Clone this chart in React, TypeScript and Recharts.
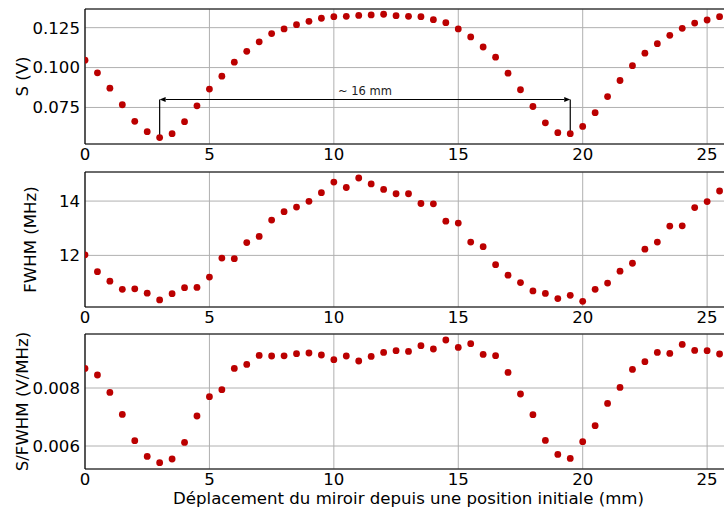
import React from 'react';
import { ScatterChart, Scatter, XAxis, YAxis, CartesianGrid, ReferenceLine } from 'recharts';

// mirror displacement (mm)
const positions = [
  0, 0.5, 1, 1.5, 2, 2.5, 3, 3.5, 4, 4.5, 5, 5.5, 6, 6.5, 7, 7.5, 8, 8.5, 9, 9.5,
  10, 10.5, 11, 11.5, 12, 12.5, 13, 13.5, 14, 14.5, 15, 15.5, 16, 16.5, 17, 17.5,
  18, 18.5, 19, 19.5, 20, 20.5, 21, 21.5, 22, 22.5, 23, 23.5, 24, 24.5, 25, 25.5,
];

// S (V)
const signal = [
  0.1046, 0.0967, 0.0871, 0.0767, 0.0663, 0.0598, 0.0561, 0.0586, 0.0661, 0.076,
  0.0865, 0.0946, 0.1034, 0.1102, 0.1161, 0.1213, 0.1242, 0.1269, 0.129, 0.1309,
  0.1319, 0.1321, 0.1327, 0.133, 0.1334, 0.1325, 0.1321, 0.1319, 0.13, 0.1281,
  0.1242, 0.1192, 0.1129, 0.1065, 0.0965, 0.0861, 0.0756, 0.0654, 0.0592, 0.0586,
  0.0631, 0.0717, 0.0818, 0.0919, 0.1012, 0.109, 0.115, 0.1202, 0.1246, 0.1279,
  0.1298, 0.1319,
];

// FWHM (MHz)
const fwhm = [
  12.02, 11.4, 11.05, 10.75, 10.77, 10.61, 10.36, 10.59, 10.81, 10.82,
  11.2, 11.9, 11.88, 12.47, 12.7, 13.3, 13.61, 13.78, 13.99, 14.31,
  14.7, 14.5, 14.85, 14.63, 14.43, 14.27, 14.27, 13.91, 13.9, 13.26,
  13.19, 12.49, 12.32, 11.66, 11.27, 11.0, 10.69, 10.6, 10.41, 10.53,
  10.31, 10.75, 10.98, 11.42, 11.71, 12.23, 12.49, 13.08, 13.09, 13.76,
  13.98, 14.37,
];

// S/FWHM (V/MHz)
const ratio = [
  0.008676, 0.008448, 0.007848, 0.00709, 0.006183, 0.005641, 0.005424, 0.005552, 0.006124, 0.007034,
  0.0077, 0.007941, 0.008676, 0.008814, 0.009124, 0.009103, 0.00911, 0.009183, 0.009207, 0.009138,
  0.008976, 0.009103, 0.008931, 0.00909, 0.009228, 0.009286, 0.009262, 0.009459, 0.009345, 0.009655,
  0.0094, 0.009528, 0.009159, 0.009114, 0.008538, 0.007793, 0.007079, 0.006193, 0.00571, 0.005572,
  0.006148, 0.0067, 0.007469, 0.008021, 0.008641, 0.008907, 0.009228, 0.009193, 0.009503, 0.009297,
  0.009286, 0.009172,
];

const xTicks = [0, 5, 10, 15, 20, 25];
const signalTicks = [0.075, 0.1, 0.125];
const fwhmTicks = [12, 14];
const ratioTicks = [0.006, 0.008];

// annotation: distance between the two minima
const gapStart = { x: 3, y: 0.0561 };
const gapEnd = { x: 19.5, y: 0.0586 };
const gapLevel = 0.08;
const gapText = '~ 16 mm';

const xLabel = 'Déplacement du miroir depuis une position initiale (mm)';

const RED = '#bb0000';
const FONT = 'DejaVu Sans, Verdana, sans-serif';
const FS = 16.6;
const W = 760;
const PLOT_H = 135;
const MARGIN_TOP = 10;

const toPoints = (values: number[]) => positions.map((x, i) => ({ x, y: values[i] }));

const Dot = (props: any) => <circle cx={props.cx} cy={props.cy} r={3.4} fill={RED} />;

const RotatedLabel = (cx: number, text: string) => (props: any) => {
  const vb = props.viewBox;
  const cy = vb.y + vb.height / 2;
  return (
    <text x={cx} y={cy} textAnchor="middle" dominantBaseline="central" fontSize={FS} fontFamily={FONT} fill="#000" transform={`rotate(-90 ${cx} ${cy})`}>
      {text}
    </text>
  );
};

const ArrowShape = (p: any) => {
  const { x1, y1, x2, y2 } = p;
  const h = 6;
  const w = 2.6;
  return (
    <g>
      <line x1={x1 + h} y1={y1} x2={x2 - h} y2={y2} stroke="#000" strokeWidth={1.2} />
      <path d={`M${x1},${y1} L${x1 + h},${y1 - w} L${x1 + h},${y1 + w} Z`} fill="#000" />
      <path d={`M${x2},${y2} L${x2 - h},${y2 - w} L${x2 - h},${y2 + w} Z`} fill="#000" />
      <text x={(x1 + x2) / 2} y={y1 - 4.5} textAnchor="middle" fontSize={11.5} fontFamily={FONT} fill="#222">
        {gapText}
      </text>
    </g>
  );
};

interface PanelProps {
  values: number[];
  domain: [number, number];
  ticks: number[];
  fmt: (v: number) => string;
  label: string;
  labelX: number;
  top: number;
  bottomLabel?: boolean;
  children?: React.ReactNode;
}

const Panel: React.FC<PanelProps> = ({ values, domain, ticks, fmt, label, labelX, top, bottomLabel, children }) => {
  const axisH = bottomLabel ? 45 : 30;
  const H = MARGIN_TOP + PLOT_H + axisH;
  const tickStyle = { fontSize: FS, fill: '#000', fontFamily: FONT };
  return (
    <div style={{ position: 'absolute', left: 0, top: top - MARGIN_TOP, width: W, height: H }}>
      <ScatterChart width={W} height={H} margin={{ top: MARGIN_TOP, right: 28, bottom: 0, left: 0 }}>
        <CartesianGrid stroke="#b0b0b0" strokeWidth={1} />
        <XAxis
          type="number"
          dataKey="x"
          domain={[0, 26]}
          ticks={xTicks}
          allowDataOverflow
          height={axisH}
          tickSize={0}
          tickMargin={4}
          tick={tickStyle}
          axisLine={{ stroke: '#000', strokeWidth: 1.2 }}
          label={bottomLabel ? { value: xLabel, position: 'insideBottom', offset: 10, fontSize: FS, fill: '#000', fontFamily: FONT } : undefined}
        />
        <YAxis
          type="number"
          dataKey="y"
          domain={domain}
          ticks={ticks}
          allowDataOverflow
          width={85}
          tickSize={0}
          tickMargin={5}
          tick={tickStyle}
          tickFormatter={fmt}
          axisLine={{ stroke: '#000', strokeWidth: 1.2 }}
          label={{ content: RotatedLabel(labelX, label) }}
        />
        <ReferenceLine y={domain[1]} stroke="#000" strokeWidth={1.2} />
        <Scatter data={toPoints(values)} shape={Dot} isAnimationActive={false} />
        {children}
      </ScatterChart>
    </div>
  );
};

export default function App() {
  return (
    <div style={{ position: 'fixed', left: 0, top: 0, width: 724, height: 510, overflow: 'hidden', background: '#fff', fontFamily: FONT }}>
      <Panel values={signal} domain={[0.0521, 0.1367]} ticks={signalTicks} fmt={(v) => v.toFixed(3)} label="S (V)" labelX={22} top={9.3}>
        <ReferenceLine segment={[gapStart, { x: gapStart.x, y: gapLevel }]} stroke="#000" strokeWidth={1.2} />
        <ReferenceLine segment={[gapEnd, { x: gapEnd.x, y: gapLevel }]} stroke="#000" strokeWidth={1.2} />
        <ReferenceLine segment={[{ x: gapStart.x, y: gapLevel }, { x: gapEnd.x, y: gapLevel }]} shape={ArrowShape} />
      </Panel>
      <Panel values={fwhm} domain={[10.1, 15.07]} ticks={fwhmTicks} fmt={(v) => String(v)} label="FWHM (MHz)" labelX={30} top={171.7} />
      <Panel values={ratio} domain={[0.005207, 0.009862]} ticks={ratioTicks} fmt={(v) => v.toFixed(3)} label="S/FWHM (V/MHz)" labelX={22} top={334.3} bottomLabel />
    </div>
  );
}
